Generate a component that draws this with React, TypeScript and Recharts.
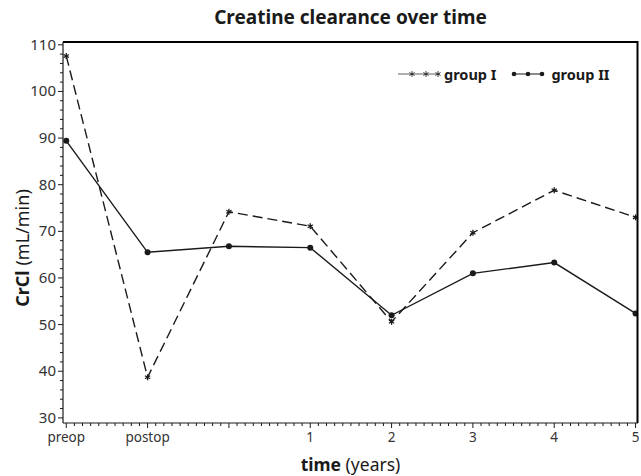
import React from "react";
import { LineChart, Line, XAxis, YAxis } from "recharts";

const xLabels = ["preop", "postop", "", "1", "2", "3", "4", "5"];
const groupI = [107.6, 38.7, 74.2, 71.1, 50.6, 69.7, 78.8, 73.0];
const groupII = [89.4, 65.5, 66.8, 66.5, 52.0, 61.0, 63.3, 52.4];
const yMajorTicks = [30, 40, 50, 60, 70, 80, 90, 100, 110];

const data = xLabels.map((label, i) => ({
  t: i,
  label,
  groupI: groupI[i],
  groupII: groupII[i],
}));

const xDomain = [-0.04, 7.03];
const yDomain = [28.9, 110.6];

// minor ticks: 10 per step on x, every 2 on y
const xTicks: number[] = [];
for (let i = 0; i <= 70; i++) xTicks.push(i / 10);
const yTicks: number[] = [];
for (let v = 30; v <= 110; v += 2) yTicks.push(v);

const ink = "#1a1a1a";
const font = "'Noto Sans', sans-serif";

const W = 641;
const H = 476;
const margin = { top: 42, right: 3, left: 0, bottom: 0 };
const yAxisWidth = 63;
const xAxisHeight = 53;

function XTick({ x, y, payload }: any) {
  const v = payload.value as number;
  const major = Math.abs(v - Math.round(v)) < 1e-6;
  return (
    <g>
      <line x1={x} x2={x} y1={y} y2={y + (major ? 5 : 3)} stroke={ink} strokeWidth={1} />
      {major && (
        <text x={x} y={y + 19} textAnchor="middle" fontSize={13.5} fill="#333" fontFamily={font}>
          {xLabels[Math.round(v)]}
        </text>
      )}
    </g>
  );
}

function YTick({ x, y, payload }: any) {
  const v = payload.value as number;
  const major = yMajorTicks.includes(v);
  return (
    <g>
      <line x1={x} x2={x - (major ? 5 : 3)} y1={y} y2={y} stroke={ink} strokeWidth={1} />
      {major && (
        <text x={x - 7} y={y + 5} textAnchor="end" fontSize={15} fill="#333" fontFamily={font}>
          {v}
        </text>
      )}
    </g>
  );
}

function Star({ cx, cy, r = 5, sw = 1.3 }: any) {
  if (cx == null || cy == null) return null;
  const a = r;
  const b = r * 0.87;
  const c = r * 0.5;
  return (
    <g stroke={ink} strokeWidth={sw}>
      <line x1={cx} y1={cy - a} x2={cx} y2={cy + a} />
      <line x1={cx - b} y1={cy - c} x2={cx + b} y2={cy + c} />
      <line x1={cx - b} y1={cy + c} x2={cx + b} y2={cy - c} />
    </g>
  );
}

function Dot({ cx, cy }: any) {
  if (cx == null || cy == null) return null;
  return <circle cx={cx} cy={cy} r={3} fill={ink} />;
}

function LegendBlock() {
  return (
    <div
      style={{
        position: "absolute",
        top: 64,
        left: 396,
        display: "flex",
        alignItems: "center",
        fontFamily: font,
        fontWeight: 700,
        fontSize: 14.5,
        color: ink,
        whiteSpace: "nowrap",
      }}
    >
      <svg width={46} height={14}>
        <line x1={2} x2={44} y1={7} y2={7} stroke={ink} strokeWidth={0.7} />
        <Star cx={16} cy={7} r={3} sw={0.8} />
        <Star cx={30} cy={7} r={3} sw={0.8} />
        <Star cx={42} cy={7} r={3} sw={0.8} />
      </svg>
      <span style={{ marginLeft: 2 }}>group I</span>
      <svg width={40} height={14} style={{ marginLeft: 12 }}>
        <line x1={4} x2={36} y1={7} y2={7} stroke={ink} strokeWidth={1} />
        <circle cx={6} cy={7} r={2.3} fill={ink} />
        <circle cx={20} cy={7} r={2.3} fill={ink} />
        <circle cx={34} cy={7} r={2.3} fill={ink} />
      </svg>
      <span style={{ marginLeft: 3 }}>group II</span>
    </div>
  );
}

export default function App() {
  const plotLeft = margin.left + yAxisWidth;
  const plotRight = W - margin.right;
  const plotTop = margin.top;
  const plotBottom = H - margin.bottom - xAxisHeight;
  return (
    <div style={{ position: "absolute", left: 0, top: 0, width: W, height: H, background: "#fff" }}>
      <div
        style={{
          position: "absolute",
          top: 4,
          left: 63,
          width: 575,
          textAlign: "center",
          fontFamily: font,
          fontWeight: 700,
          fontSize: 19,
          color: ink,
        }}
      >
        Creatine clearance over time
      </div>
      <LineChart width={W} height={H} data={data} margin={margin}>
        <XAxis
          dataKey="t"
          type="number"
          domain={xDomain}
          ticks={xTicks}
          interval={0}
          height={xAxisHeight}
          tickSize={0}
          tickMargin={0}
          tickLine={false}
          tick={<XTick />}
          axisLine={{ stroke: ink, strokeWidth: 1.2 }}
          allowDataOverflow
        />
        <YAxis
          type="number"
          domain={yDomain}
          ticks={yTicks}
          interval={0}
          width={yAxisWidth}
          tickSize={0}
          tickMargin={0}
          tickLine={false}
          tick={<YTick />}
          axisLine={{ stroke: ink, strokeWidth: 1.2 }}
          allowDataOverflow
        />
        <Line
          dataKey="groupI"
          stroke={ink}
          strokeWidth={1.4}
          strokeDasharray="10 5"
          dot={<Star />}
          activeDot={false}
          isAnimationActive={false}
        />
        <Line
          dataKey="groupII"
          stroke={ink}
          strokeWidth={1.4}
          dot={<Dot />}
          activeDot={false}
          isAnimationActive={false}
        />
      </LineChart>
      {/* top and right frame of the plot box */}
      <svg
        width={W}
        height={H}
        style={{ position: "absolute", left: 0, top: 0, pointerEvents: "none" }}
      >
        <polyline
          points={`${plotLeft},${plotTop} ${plotRight - 0.5},${plotTop} ${plotRight - 0.5},${plotBottom}`}
          fill="none"
          stroke="#000"
          strokeWidth={2}
        />
      </svg>
      <LegendBlock />
      <div
        style={{
          position: "absolute",
          top: 452,
          left: 63,
          width: 575,
          textAlign: "center",
          fontFamily: font,
          fontSize: 17.5,
          color: ink,
        }}
      >
        <b>time</b> (years)
      </div>
      <div
        style={{
          position: "absolute",
          left: 22,
          top: 248,
          transform: "translate(-50%, -50%) rotate(-90deg)",
          fontFamily: font,
          fontSize: 18,
          color: ink,
          whiteSpace: "nowrap",
        }}
      >
        <b>CrCl</b> (mL/min)
      </div>
    </div>
  );
}
